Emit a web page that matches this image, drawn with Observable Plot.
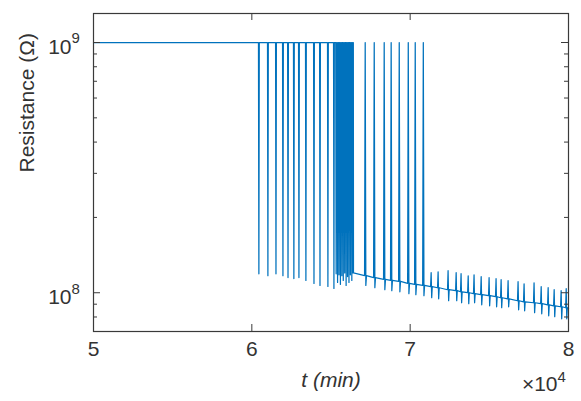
<!DOCTYPE html>
<html><head><meta charset="utf-8">
<script src="https://cdn.jsdelivr.net/npm/d3@7"></script>
<script src="https://cdn.jsdelivr.net/npm/@observablehq/plot@0.6"></script>
<style>body{margin:0;background:#fff;}</style>
</head><body><div id="chart"></div>
<script>
// ---- data (t in minutes, R in ohms) ----
const startT = 50000;
const highR = 1e9;
// phase 1: high state with downward switching spikes
const spikes1T   = [60420, 60990, 61500, 61940, 62260, 62630, 62950, 63390, 63900, 64280, 64780, 65160];
const spikes1Low = [1.19e8, 1.17e8, 1.19e8, 1.17e8, 1.15e8, 1.14e8, 1.15e8, 1.12e8, 1.09e8, 1.07e8, 1.06e8, 1.04e8];
// dense switching block
const denseT   = [65300, 65390, 65480, 65570, 65660, 65750, 65840, 65930, 66020, 66110, 66200, 66290, 66360];
const denseLow = [1.19e8, 1.10e8, 1.18e8, 1.08e8, 1.17e8, 1.12e8, 1.20e8, 1.07e8, 1.16e8, 1.10e8, 1.18e8, 1.12e8, 1.20e8];
const afterDenseT = 66420, afterDenseR = 1.20e8;
// phase 2: low state with upward spikes
const spikes2T    = [67120, 67690, 68320, 68760, 69270, 69840, 70280, 70790];
const spikes2Base = [1.17e8, 1.15e8, 1.13e8, 1.12e8, 1.11e8, 1.09e8, 1.08e8, 1.07e8];
const spikes2Dip  = [1.07e8, 1.047e8, 1.028e8, 1.019e8, 1.009e8, 0.991e8, 0.982e8, 0.973e8];
// phase 3: low state with small fluctuations
const noiseT    = [71290, 71730, 72360, 72870, 73180, 73630, 74000, 74450, 74950, 75390, 75710, 76150, 76780, 77160, 77790, 78240, 78680, 79060, 79500, 79820];
const noiseBase = [1.057e8, 1.047e8, 1.028e8, 1.019e8, 1.009e8, 1.0e8, 0.991e8, 0.982e8, 0.973e8, 0.964e8, 0.955e8, 0.946e8, 0.929e8, 0.920e8, 0.912e8, 0.904e8, 0.895e8, 0.887e8, 0.879e8, 0.871e8];
const noiseUp   = [1.202e8, 1.213e8, 1.225e8, 1.202e8, 1.191e8, 1.169e8, 1.180e8, 1.159e8, 1.148e8, 1.138e8, 1.127e8, 1.117e8, 1.107e8, 1.086e8, 1.096e8, 1.057e8, 1.047e8, 1.028e8, 1.019e8, 1.038e8];
const noiseDown = [0.955e8, 0.946e8, 0.929e8, 0.929e8, 0.912e8, 0.904e8, 0.912e8, 0.895e8, 0.887e8, 0.879e8, 0.871e8, 0.879e8, 0.855e8, 0.847e8, 0.832e8, 0.824e8, 0.809e8, 0.802e8, 0.787e8, 0.787e8];
const endT = 80000, endR = 0.863e8;

// axis ticks / labels
const xTicks = [50000, 60000, 70000, 80000];
const yMajor = [1e8, 1e9];
const yMinor = [8e7, 9e7, 2e8, 3e8, 4e8, 5e8, 6e8, 7e8, 8e8, 9e8];
const xLabel = "t (min)";
const yLabel = "Resistance (Ω)";
const xExpBase = "×10", xExp = "4";

// ---- build the trace ----
const w1 = 25, w2 = 40, w3 = 35; // spike half-widths in minutes (drawing detail)
const pts = [{t: startT, r: highR}];
spikes1T.forEach((t, i) => { pts.push({t, r: highR}, {t: t + w1, r: spikes1Low[i]}, {t: t + 2*w1, r: highR}); });
denseT.forEach((t, i) => { pts.push({t, r: highR}, {t: t + w1, r: denseLow[i]}, {t: t + 2*w1, r: highR}); });
pts.push({t: afterDenseT, r: afterDenseR});
spikes2T.forEach((t, i) => { pts.push({t, r: spikes2Base[i]}, {t: t + w2, r: highR}, {t: t + 2*w2, r: spikes2Dip[i]}, {t: t + 3*w2, r: spikes2Base[i]}); });
noiseT.forEach((t, i) => { pts.push({t, r: noiseBase[i]}, {t: t + w3, r: noiseUp[i]}, {t: t + 2*w3, r: noiseDown[i]}, {t: t + 3*w3, r: noiseBase[i]}); });
pts.push({t: endT, r: endR});

const lineColor = "#0072BD";
const axisColor = "#3a3a3a";
const textColor = "#333333";
const W = 581, H = 401, mL = 93, mR = 13, mT = 13, mB = 70;
const pw = W - mL - mR, ph = H - mT - mB;
const major = 7, minor = 4;

const chart = Plot.plot({
  width: W, height: H,
  marginLeft: mL, marginRight: mR, marginTop: mT, marginBottom: mB,
  style: {fontFamily: "'Liberation Sans', Arial, Helvetica, sans-serif", background: "white", overflow: "visible"},
  x: {domain: [50000, 80000], axis: null},
  y: {type: "log", domain: [7e7, 1.306e9], axis: null},
  marks: [
    Plot.line(pts, {x: "t", y: "r", stroke: lineColor, strokeWidth: 1.25}),
    Plot.frame({stroke: axisColor, strokeWidth: 1.2}),
    Plot.tickX(xTicks, {x: d => d, insetTop: ph - major, stroke: axisColor}),
    Plot.tickX(xTicks, {x: d => d, insetBottom: ph - major, stroke: axisColor}),
    Plot.tickY(yMajor, {y: d => d, insetRight: pw - major, stroke: axisColor}),
    Plot.tickY(yMajor, {y: d => d, insetLeft: pw - major, stroke: axisColor}),
    Plot.tickY(yMinor, {y: d => d, insetRight: pw - minor, stroke: axisColor}),
    Plot.tickY(yMinor, {y: d => d, insetLeft: pw - minor, stroke: axisColor}),
    Plot.text(xTicks, {x: d => d, frameAnchor: "bottom", dy: 24, text: d => String(d / 1e4), fontSize: 21, fill: textColor}),
    Plot.text(yMajor, {y: d => d, frameAnchor: "left", dx: -22, dy: 5, textAnchor: "end", text: () => "10", fontSize: 21, fill: textColor}),
    Plot.text(yMajor, {y: d => d, frameAnchor: "left", dx: -22, dy: -4, textAnchor: "start", text: d => String(Math.round(Math.log10(d))), fontSize: 15, fill: textColor}),
    Plot.text([xLabel], {frameAnchor: "bottom", dy: 55, text: d => d, fontSize: 21, fontStyle: "italic", fill: textColor}),
    Plot.text([yLabel], {frameAnchor: "left", dx: -66, rotate: -90, text: d => d, fontSize: 21, fill: textColor}),
    Plot.text([xExpBase], {frameAnchor: "bottom-right", dx: -11, dy: 59, textAnchor: "end", text: d => d, fontSize: 21, fill: textColor}),
    Plot.text([xExp], {frameAnchor: "bottom-right", dx: -11, dy: 50, textAnchor: "start", text: d => d, fontSize: 15, fill: textColor})
  ]
});
document.getElementById("chart").appendChild(chart);
</script>
</body></html>
